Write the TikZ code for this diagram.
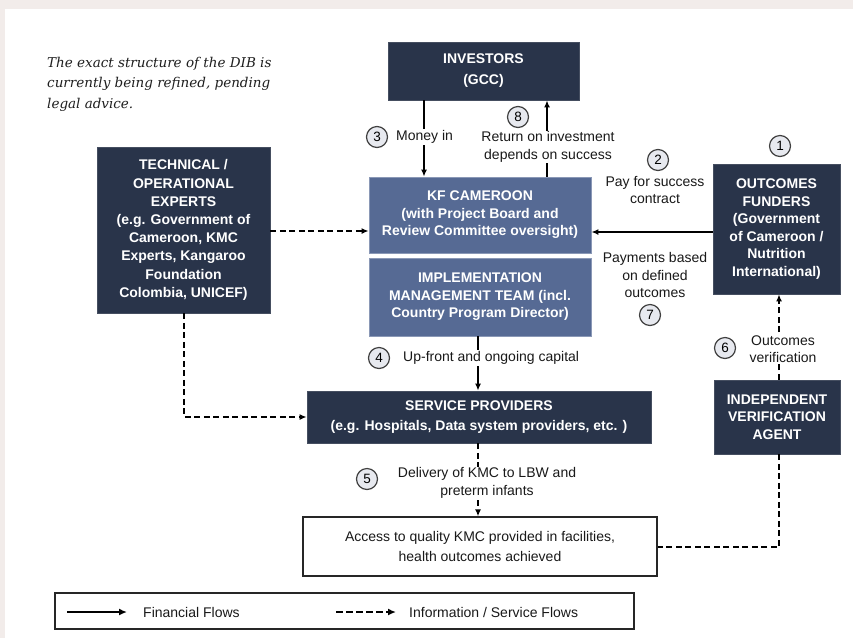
\documentclass[tikz,border=0pt]{standalone}
\usepackage{fontspec}
\setmainfont{Liberation Sans}
\newfontfamily\notefont{DejaVu Serif}
\usetikzlibrary{arrows.meta,calc}
\definecolor{navy}{HTML}{29344A}
\definecolor{navyedge}{HTML}{454E60}
\definecolor{kfblue}{HTML}{566A94}
\definecolor{kfedge}{HTML}{8A98B6}
\definecolor{circfill}{HTML}{E7E9EF}
\definecolor{bgstrip}{HTML}{F2ECEA}
\tikzset{
  darkbox/.style={draw=navyedge, line width=0.8pt, fill=navy, text=white, align=center, inner sep=0pt,
    font=\bfseries\fontsize{14}{17.5}\selectfont},
  bluebox/.style={draw=kfedge, line width=0.8pt, fill=kfblue, text=white, align=center, inner sep=0pt,
    font=\bfseries\fontsize{14}{17.5}\selectfont},
  numcirc/.style={circle, draw=black!75, line width=1.2pt, fill=circfill, minimum size=21pt, inner sep=0pt,
    font=\fontsize{13.5}{13.5}\selectfont},
  lbl/.style={align=center, inner sep=1pt, text=black!90, font=\fontsize{14}{17.5}\selectfont},
  wlbl/.style={lbl, fill=white},
  fin/.style={line width=1.7pt, -{Latex[length=7pt,width=6pt]}},
  info/.style={line width=2.2pt, dash pattern=on 6pt off 3.5pt, -{Latex[length=7pt,width=6pt]}},
  infoline/.style={line width=2.2pt, dash pattern=on 6pt off 3.5pt},
}
\begin{document}
\begin{tikzpicture}[x=1pt,y=-1pt]
\fill[bgstrip] (0,0) rectangle (853,638);
\fill[white] (5,9) rectangle (853,638);
\useasboundingbox (0,0) rectangle (853,638);

% note
\node[anchor=north west, align=left, inner sep=0pt, text=black!88,
  font=\notefont\itshape\fontsize{13.5}{20.5}\selectfont] (note) at (47,57)
  {The exact structure of the DIB is\\currently being refined, pending\\legal advice.};

% boxes
\node[darkbox, minimum width=191pt, minimum height=58pt, font=\bfseries\fontsize{14}{21}\selectfont] (inv) at (483.5,71) {INVESTORS\\(GCC)};
\node[bluebox, minimum width=222pt, minimum height=76pt] (kf) at (480,215)
  {KF CAMEROON\\(with Project Board and\\Review Committee oversight)};
\node[bluebox, minimum width=222pt, minimum height=78pt] (impl) at (480,297)
  {IMPLEMENTATION\\MANAGEMENT TEAM (incl.\\Country Program Director)};
\node[darkbox, minimum width=173pt, minimum height=166pt, font=\bfseries\fontsize{14}{18.2}\selectfont] (tech) at (183.5,230)
  {TECHNICAL /\\OPERATIONAL\\EXPERTS\\(e.g. Government of\\Cameroon, KMC\\Experts, Kangaroo\\Foundation\\Colombia, UNICEF)};
\node[darkbox, minimum width=127pt, minimum height=130pt] (of) at (776.5,229)
  {OUTCOMES\\FUNDERS\\(Government\\of Cameroon /\\Nutrition\\International)};
\node[darkbox, minimum width=126pt, minimum height=74pt] (iva) at (777,417)
  {INDEPENDENT\\VERIFICATION\\AGENT};
\node[darkbox, minimum width=344pt, minimum height=52pt, font=\bfseries\fontsize{14}{20}\selectfont] (sp) at (479,417)
  {SERVICE PROVIDERS\\(e.g. Hospitals, Data system providers, etc. )};
\node[draw=black!85, line width=1.3pt, fill=white, align=center, minimum width=354pt, minimum height=59pt,
  inner sep=0pt, text=black!90, font=\fontsize{14}{20}\selectfont] (acc) at (480,546.5)
  {Access to quality KMC provided in facilities,\\health outcomes achieved};

% connectors
\draw[fin] (inv.south -| 424,0) -- (kf.north -| 424,0);
\draw[fin] (kf.north -| 547,0) -- (inv.south -| 547,0);
\draw[fin] (of.west |- 0,232) -- (kf.east |- 0,232);
\draw[info] (tech.east |- 0,231) -- (kf.west |- 0,231);
\draw[info] (tech.south -| 184,0) |- (sp.west);
\draw[fin] (impl.south -| 478,0) -- (sp.north -| 478,0);
\draw[info] (sp.south -| 478,0) -- (acc.north -| 478,0);
\draw[info] (iva.north -| 779,0) -- (of.south -| 779,0);
\draw[infoline] (iva.south -| 779,0) |- (acc.east |- 0,547);

% labels
\node[numcirc] (c3) at (377,137) {3};
\node[wlbl, anchor=west] (l3) at (395,137) {Money in};
\node[numcirc] (c8) at (518,117) {8};
\node[wlbl] (l8) at (548,147) {Return on investment\\depends on success};
\node[numcirc] (c1) at (780,146) {1};
\node[numcirc] (c2) at (658,160) {2};
\node[lbl] (l2) at (655,190) {Pay for success\\contract};
\node[lbl] (l7) at (655,275) {Payments based\\on defined\\outcomes};
\node[numcirc] (c7) at (650,315) {7};
\node[numcirc] (c6) at (725,348) {6};
\node[wlbl] (l6) at (783,349) {Outcomes\\verification};
\node[numcirc] (c4) at (379,358) {4};
\node[wlbl, anchor=west] (l4) at (402,358) {Up-front and ongoing capital};
\node[numcirc] (c5) at (367,479) {5};
\node[wlbl] (l5) at (487,483) {Delivery of KMC to LBW and\\preterm infants};

% legend
\node[draw=black!85, line width=1.3pt, minimum width=579pt, minimum height=36pt, inner sep=0pt] (leg) at (344.5,611) {};
\coordinate (fa) at (67,612);
\coordinate (fb) at (127,612);
\coordinate (ia) at (336,612);
\coordinate (ib) at (396,612);
\draw[line width=2.2pt, -{Latex[length=8pt,width=7pt]}] (fa) -- (fb);
\draw[line width=2.4pt, dash pattern=on 7pt off 3pt, -{Latex[length=8pt,width=7pt]}] (ia) -- (ib);
\node[lbl, anchor=west] (lf) at (142,612) {Financial Flows};
\node[lbl, anchor=west] (li) at (408,612) {Information / Service Flows};
\end{tikzpicture}
\end{document}
